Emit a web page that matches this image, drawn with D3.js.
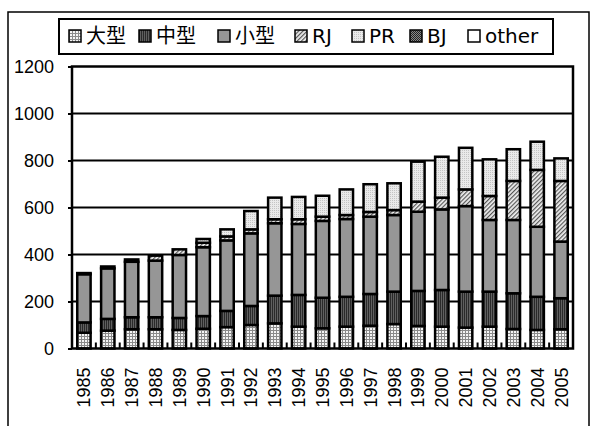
<!DOCTYPE html>
<html>
<head>
<meta charset="utf-8">
<script src="https://cdn.jsdelivr.net/npm/d3@7"></script>
<style>
  body { margin: 0; background: #fff; }
  svg { display: block; }
  .lab { font-family: "Liberation Sans", Arial, sans-serif; font-size: 18px; fill: #000; }
  .leg { font-family: "DejaVu Sans", "Noto Sans CJK JP", sans-serif; font-size: 20px; fill: #000; }
</style>
</head>
<body>
<svg id="chart"></svg>
<script>
// data
const years = ["1985","1986","1987","1988","1989","1990","1991","1992","1993","1994","1995",
               "1996","1997","1998","1999","2000","2001","2002","2003","2004","2005"];
const seriesNames = ["大型","中型","小型","RJ","PR","BJ","other"];
const large  = [67, 76, 82, 82, 79, 84, 91,100,107, 93, 86, 93, 97,104, 96, 93, 89, 93, 83, 79, 82];
const medium = [44, 50, 51, 51, 51, 54, 69, 81,118,135,130,127,135,138,149,156,153,149,152,141,132];
const small  = [205,215,236,241,268,293,300,309,308,302,327,331,329,326,337,343,364,305,312,298,241];
const rj     = [5, 8, 10, 21, 24, 19, 17, 17, 17, 20, 18, 17, 20, 21, 43, 50, 71,102,166,242,258];
const pr     = [0, 0, 0, 0, 0, 16, 30, 78, 92, 95, 89,109,118,114,170,174,177,156,135,120, 96];
const bj     = [0, 0, 0, 0, 0, 0, 0, 0, 0, 0, 0, 0, 0, 0, 0, 0, 0, 0, 0, 0, 0];
const other  = [0, 0, 0, 0, 0, 0, 0, 0, 0, 0, 0, 0, 0, 0, 0, 0, 0, 0, 0, 0, 0];
const yTicks = [0, 200, 400, 600, 800, 1000, 1200];

const W = 592, H = 426;
const svg = d3.select('#chart').attr('width', W).attr('height', H);

// patterns for the fills
const defs = svg.append('defs');
function pat(id, w, h) {
  return defs.append('pattern').attr('id', id)
    .attr('patternUnits', 'userSpaceOnUse').attr('width', w).attr('height', h);
}
let p = pat('p0', 3, 3);
p.append('rect').attr('width', 3).attr('height', 3).attr('fill', '#f4f4f4');
p.append('rect').attr('width', 3).attr('height', 1).attr('fill', '#8a8a8a');
p.append('rect').attr('width', 1).attr('height', 3).attr('fill', '#8a8a8a');
p = pat('p1', 2, 2);
p.append('rect').attr('width', 2).attr('height', 2).attr('fill', '#2a2a2a');
p.append('rect').attr('x', 1).attr('width', 1).attr('height', 2).attr('fill', '#606060');
p = pat('p3', 3, 3).attr('patternTransform', 'rotate(45)');
p.append('rect').attr('width', 3).attr('height', 3).attr('fill', '#f0f0f0');
p.append('rect').attr('width', 1.2).attr('height', 3).attr('fill', '#555');
p = pat('p4', 2, 2);
p.append('rect').attr('width', 2).attr('height', 2).attr('fill', '#eaeaea');
p.append('rect').attr('width', 1).attr('height', 1).attr('fill', '#c4c4c4');
p = pat('p5', 2, 2);
p.append('rect').attr('width', 2).attr('height', 2).attr('fill', '#888');
p.append('rect').attr('width', 1).attr('height', 1).attr('fill', '#222');
p.append('rect').attr('x', 1).attr('y', 1).attr('width', 1).attr('height', 1).attr('fill', '#222');
const fills = ['url(#p0)', 'url(#p1)', '#969696', 'url(#p3)', 'url(#p4)', 'url(#p5)', '#fff'];

// outer frame
svg.append('rect').attr('x', 8).attr('y', 12).attr('width', 581).attr('height', 430)
  .attr('fill', 'none').attr('stroke', '#000').attr('stroke-width', 1.5);

const plot = {left: 72, right: 573, top: 66.5, bottom: 348.5};

const x = d3.scaleBand().domain(years)
  .range([plot.left, plot.right]).paddingInner(0.44).paddingOuter(0.22);
const y = d3.scaleLinear().domain([0, 1200]).range([plot.bottom, plot.top]);

// gridlines
svg.append('g').selectAll('line').data(yTicks.slice(1, -1)).join('line')
  .attr('x1', plot.left).attr('x2', plot.right)
  .attr('y1', d => y(d)).attr('y2', d => y(d))
  .attr('stroke', '#000').attr('stroke-width', 2);

// stacked bars
const rows = years.map((yr, i) => ({
  year: yr, '大型': large[i], '中型': medium[i], '小型': small[i],
  RJ: rj[i], PR: pr[i], BJ: bj[i], other: other[i]
}));
const stacked = d3.stack().keys(seriesNames)(rows);

svg.append('g').selectAll('g').data(stacked).join('g')
  .attr('fill', (d, i) => fills[i])
  .selectAll('rect').data(d => d.filter(s => s[1] - s[0] > 0)).join('rect')
  .attr('x', d => x(d.data.year))
  .attr('width', x.bandwidth())
  .attr('y', d => y(d[1]))
  .attr('height', d => y(d[0]) - y(d[1]))
  .attr('stroke', '#000').attr('stroke-width', 2.5);

// y axis
const yAxis = d3.axisLeft(y).tickValues(yTicks).tickFormat(d3.format('d'))
  .tickSize(4).tickPadding(14);
const gy = svg.append('g').attr('transform', `translate(${plot.left},0)`).call(yAxis);
gy.attr('font-family', null).attr('font-size', null);
gy.select('.domain').remove();
gy.selectAll('line').attr('stroke', '#000').attr('stroke-width', 2);
gy.selectAll('text').attr('class', 'lab').attr('fill', null);

// x axis with inward ticks between categories
const step = x.step();
svg.append('g').selectAll('line').data(d3.range(1, years.length)).join('line')
  .attr('x1', i => plot.left + i * step).attr('x2', i => plot.left + i * step)
  .attr('y1', plot.bottom).attr('y2', plot.bottom - 6)
  .attr('stroke', '#000').attr('stroke-width', 2);

svg.append('g').selectAll('text').data(years).join('text')
  .attr('class', 'lab')
  .attr('transform', d => `translate(${x(d) + x.bandwidth() / 2 + 6.5},${plot.bottom + 19}) rotate(-90)`)
  .attr('text-anchor', 'end')
  .text(d => d);

// plot border
svg.append('rect').attr('x', plot.left).attr('y', plot.top)
  .attr('width', plot.right - plot.left).attr('height', plot.bottom - plot.top)
  .attr('fill', 'none').attr('stroke', '#000').attr('stroke-width', 2.5);

// legend
svg.append('rect').attr('x', 59).attr('y', 19).attr('width', 494).attr('height', 35)
  .attr('fill', '#fff').attr('stroke', '#000').attr('stroke-width', 2);
const legendX = [69, 139, 218, 295, 352, 410, 468];
const lg = svg.append('g').selectAll('g').data(seriesNames).join('g')
  .attr('transform', (d, i) => `translate(${legendX[i]},0)`);
lg.append('rect').attr('x', 0).attr('y', 30).attr('width', 12).attr('height', 12)
  .attr('fill', (d, i) => fills[i]).attr('stroke', '#000').attr('stroke-width', 1.5);
lg.append('text').attr('class', 'leg').attr('x', 17).attr('y', 43)
  .text(d => d);
</script>
</body>
</html>
